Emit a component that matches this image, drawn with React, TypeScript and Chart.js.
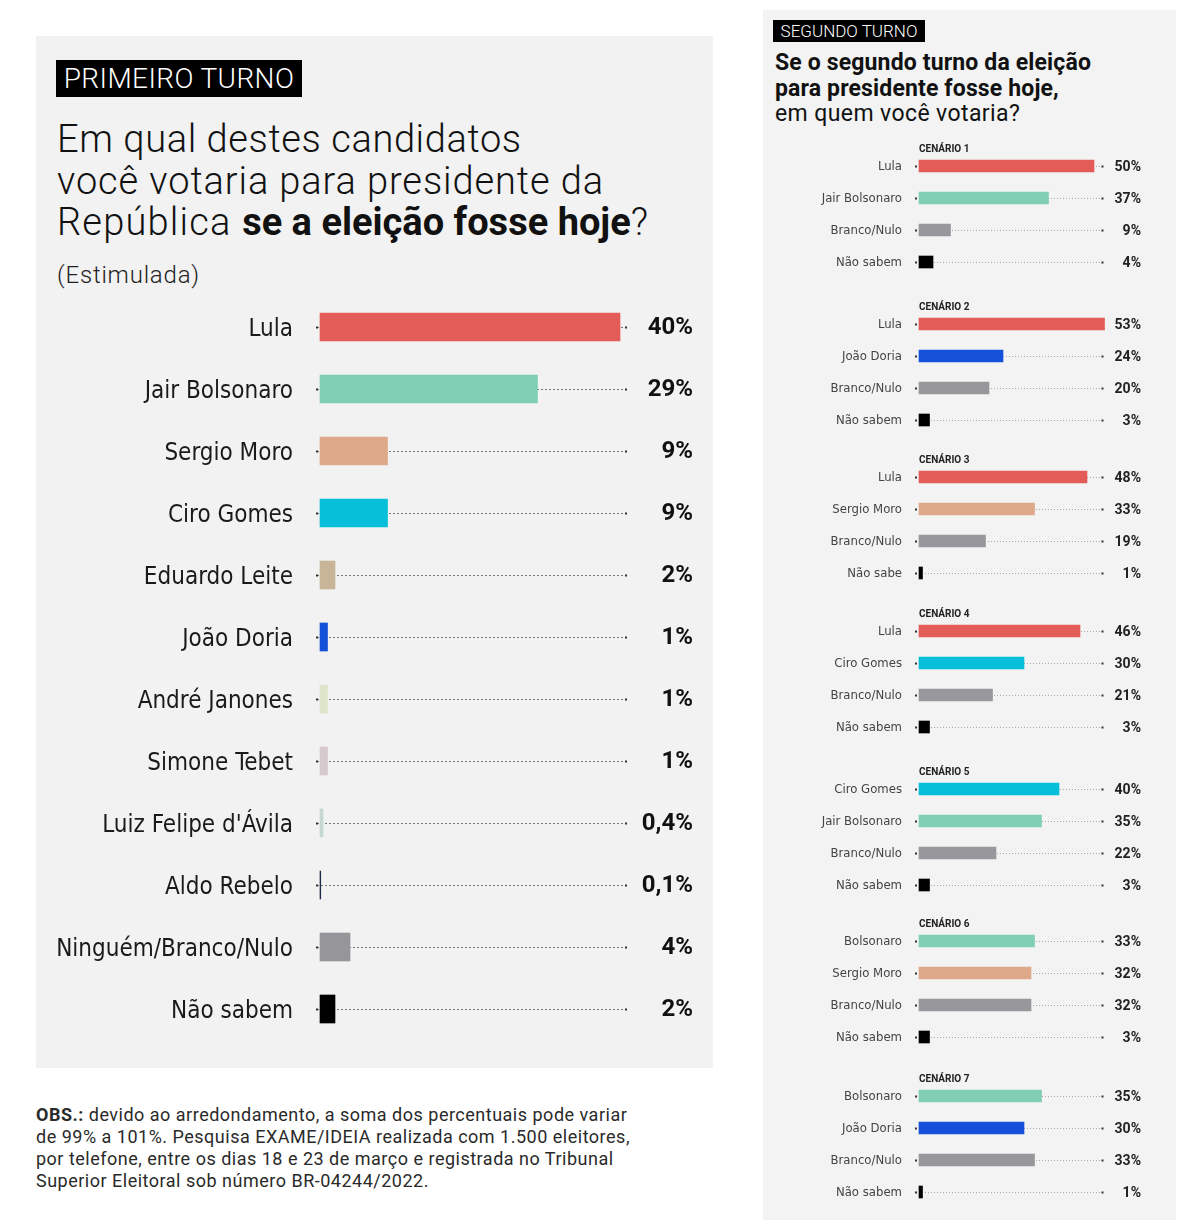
import React, { useEffect, useRef } from "react";
import { Chart, registerables } from "chart.js";

Chart.register(...registerables);

// ---------------- DATA ----------------
const firstCategories = [
  "Lula",
  "Jair Bolsonaro",
  "Sergio Moro",
  "Ciro Gomes",
  "Eduardo Leite",
  "João Doria",
  "André Janones",
  "Simone Tebet",
  "Luiz Felipe d'Ávila",
  "Aldo Rebelo",
  "Ninguém/Branco/Nulo",
  "Não sabem",
];
const firstValues = [40, 29, 9, 9, 2, 1, 1, 1, 0.4, 0.1, 4, 2];
const firstColors = [
  "#e45c58",
  "#80cfb5",
  "#dea98b",
  "#08bfd9",
  "#c8b496",
  "#1550d8",
  "#dce4c9",
  "#d6cace",
  "#c5d8d0",
  "#1a2a44",
  "#96969a",
  "#000000",
];

const scenarioTitles = ["CENÁRIO 1", "CENÁRIO 2", "CENÁRIO 3", "CENÁRIO 4", "CENÁRIO 5", "CENÁRIO 6", "CENÁRIO 7"];

const scenario1Labels = ["Lula", "Jair Bolsonaro", "Branco/Nulo", "Não sabem"];
const scenario1Values = [50, 37, 9, 4];
const scenario2Labels = ["Lula", "João Doria", "Branco/Nulo", "Não sabem"];
const scenario2Values = [53, 24, 20, 3];
const scenario3Labels = ["Lula", "Sergio Moro", "Branco/Nulo", "Não sabe"];
const scenario3Values = [48, 33, 19, 1];
const scenario4Labels = ["Lula", "Ciro Gomes", "Branco/Nulo", "Não sabem"];
const scenario4Values = [46, 30, 21, 3];
const scenario5Labels = ["Ciro Gomes", "Jair Bolsonaro", "Branco/Nulo", "Não sabem"];
const scenario5Values = [40, 35, 22, 3];
const scenario6Labels = ["Bolsonaro", "Sergio Moro", "Branco/Nulo", "Não sabem"];
const scenario6Values = [33, 32, 32, 3];
const scenario7Labels = ["Bolsonaro", "João Doria", "Branco/Nulo", "Não sabem"];
const scenario7Values = [35, 30, 33, 1];

const RED = "#e45c58";
const MINT = "#80cfb5";
const PEACH = "#dea98b";
const CYAN = "#08bfd9";
const BLUE = "#1550d8";
const GRAY = "#98989c";
const BLACK = "#000000";

const scenario1Colors = [RED, MINT, GRAY, BLACK];
const scenario2Colors = [RED, BLUE, GRAY, BLACK];
const scenario3Colors = [RED, PEACH, GRAY, BLACK];
const scenario4Colors = [RED, CYAN, GRAY, BLACK];
const scenario5Colors = [CYAN, MINT, GRAY, BLACK];
const scenario6Colors = [MINT, PEACH, GRAY, BLACK];
const scenario7Colors = [MINT, BLUE, GRAY, BLACK];

// ---------------- LAYOUT ----------------
const scenarioTops = [150, 308, 461, 615, 773, 925, 1080];

const NARROW = "'Liberation Sans Narrow', 'DejaVu Sans Condensed', 'Roboto', sans-serif";
const SANS = "Roboto, 'Noto Sans', sans-serif";

const fmt = (v: number) => String(v).replace(".", ",") + "%";

type BlockProps = {
  labels: string[];
  values: number[];
  colors: string[];
  left: number;
  top: number;
  width: number;
  height: number;
  axisWidth: number;
  labelPadding: number;
  labelOffset: number;
  padRight: number;
  xMax: number;
  barThickness: number;
  labelFont: { size: number; color: string };
  valueFont: { size: number; color: string; weight: number };
  valueX: number;
  lineLeft: number;
  lineRight: number;
  lineColor: string;
  dash: number[];
};

function BarBlock(p: BlockProps) {
  const ref = useRef<HTMLCanvasElement | null>(null);
  useEffect(() => {
    if (!ref.current) return;
    const decor = {
      id: "rowDecor",
      beforeDatasetsDraw(chart: any) {
        const { ctx, chartArea } = chart;
        const meta = chart.getDatasetMeta(0);
        ctx.save();
        meta.data.forEach((bar: any) => {
          const y = Math.round(bar.y) + 0.5;
          const x0 = chartArea.left - p.lineLeft;
          const x1 = chartArea.right + p.lineRight;
          ctx.strokeStyle = p.lineColor;
          ctx.lineWidth = 1;
          ctx.setLineDash(p.dash);
          ctx.beginPath();
          ctx.moveTo(x0, y);
          ctx.lineTo(x1, y);
          ctx.stroke();
          ctx.setLineDash([]);
          ctx.fillStyle = "#333";
          ctx.fillRect(x0 - 1, y - 1, 2, 2);
          ctx.fillRect(x1 - 1, y - 1, 2, 2);
        });
        ctx.restore();
      },
      afterDatasetsDraw(chart: any) {
        const { ctx } = chart;
        const meta = chart.getDatasetMeta(0);
        const data = chart.data.datasets[0].data as number[];
        ctx.save();
        ctx.font = `${p.valueFont.weight} ${p.valueFont.size}px ${SANS}`;
        ctx.fillStyle = p.valueFont.color;
        ctx.textAlign = "right";
        ctx.textBaseline = "middle";
        meta.data.forEach((bar: any, i: number) => {
          ctx.fillText(fmt(data[i]), p.valueX, bar.y + 1);
        });
        ctx.restore();
      },
    };
    const chart = new Chart(ref.current, {
      type: "bar",
      data: {
        labels: p.labels,
        datasets: [
          {
            data: p.values,
            backgroundColor: p.colors,
            borderWidth: 0,
            barThickness: p.barThickness,
            clip: false as any,
          },
        ],
      },
      options: {
        indexAxis: "y",
        responsive: false,
        maintainAspectRatio: false,
        animation: false,
        layout: { padding: { left: 0, right: p.padRight, top: 0, bottom: 0 } },
        plugins: {
          legend: { display: false },
          tooltip: { enabled: false },
          title: { display: false },
        },
        scales: {
          x: { display: false, min: 0, max: p.xMax },
          y: {
            position: "left",
            grid: { display: false, drawTicks: false },
            border: { display: false },
            ticks: {
              padding: p.labelPadding,
              labelOffset: p.labelOffset,
              color: p.labelFont.color,
              font: { family: NARROW, size: p.labelFont.size },
              autoSkip: false,
            },
            afterFit: (s: any) => {
              s.width = p.axisWidth;
              s.paddingTop = 0;
              s.paddingBottom = 0;
            },
          },
        },
      },
      plugins: [decor],
    } as any);
    return () => chart.destroy();
  }, []);
  return (
    <canvas
      ref={ref}
      width={p.width}
      height={p.height}
      style={{ position: "absolute", left: p.left, top: p.top, width: p.width, height: p.height }}
    />
  );
}

const scenarios = [
  { title: scenarioTitles[0], labels: scenario1Labels, values: scenario1Values, colors: scenario1Colors },
  { title: scenarioTitles[1], labels: scenario2Labels, values: scenario2Values, colors: scenario2Colors },
  { title: scenarioTitles[2], labels: scenario3Labels, values: scenario3Values, colors: scenario3Colors },
  { title: scenarioTitles[3], labels: scenario4Labels, values: scenario4Values, colors: scenario4Colors },
  { title: scenarioTitles[4], labels: scenario5Labels, values: scenario5Values, colors: scenario5Colors },
  { title: scenarioTitles[5], labels: scenario6Labels, values: scenario6Values, colors: scenario6Colors },
  { title: scenarioTitles[6], labels: scenario7Labels, values: scenario7Values, colors: scenario7Colors },
];

export default function App() {
  const abs = (l: number, t: number, extra: any = {}) => ({ position: "absolute" as const, left: l, top: t, ...extra });
  return (
    <div style={{ position: "absolute", left: 0, top: 0, width: 1195, height: 1226, background: "#fff", overflow: "hidden", fontFamily: SANS }}>
      {/* Left panel */}
      <div style={abs(36, 36, { width: 677, height: 1032, background: "#f2f2f2" })} />
      <div
        style={abs(56, 60, {
          width: 246,
          height: 37,
          background: "#000",
          color: "#fff",
          fontSize: 28,
          lineHeight: "37px",
          textAlign: "center",
          fontWeight: 300,
          letterSpacing: 0.4,
          whiteSpace: "nowrap",
        })}
      >
        PRIMEIRO TURNO
      </div>
      <div style={abs(57, 119, { fontSize: 38, lineHeight: "41.5px", color: "#111", fontWeight: 300, whiteSpace: "nowrap" })}>
        <div style={{ letterSpacing: 0.6 }}>Em qual destes candidatos</div>
        <div style={{ letterSpacing: 0.9 }}>você votaria para presidente da</div>
        <div>
          <span style={{ letterSpacing: 1.2 }}>República </span>
          <span style={{ fontWeight: 700 }}>se a eleição fosse hoje</span>?
        </div>
      </div>
      <div style={abs(57, 260, { fontSize: 24, lineHeight: "30px", color: "#222", fontWeight: 300, letterSpacing: 0.8 })}>(Estimulada)</div>

      <BarBlock
        labels={firstCategories}
        values={firstValues}
        colors={firstColors}
        left={36}
        top={296}
        width={677}
        height={744}
        axisWidth={284}
        labelPadding={27}
        labelOffset={3}
        padRight={93}
        xMax={40}
        barThickness={28}
        labelFont={{ size: 24, color: "#1a1a1a" }}
        valueFont={{ size: 24, color: "#111", weight: 700 }}
        valueX={657}
        lineLeft={3}
        lineRight={6}
        lineColor="#777"
        dash={[2, 2]}
      />

      {/* Footer */}
      <div style={abs(36, 1104, { width: 660, fontSize: 18, lineHeight: "22px", color: "#2a2a2a", whiteSpace: "nowrap", letterSpacing: 0.5 })}>
        <div>
          <b>OBS.:</b> devido ao arredondamento, a soma dos percentuais pode variar
        </div>
        <div>de 99% a 101%. Pesquisa EXAME/IDEIA realizada com 1.500 eleitores,</div>
        <div>por telefone, entre os dias 18 e 23 de março e registrada no Tribunal</div>
        <div>Superior Eleitoral sob número BR-04244/2022.</div>
      </div>

      {/* Right panel */}
      <div style={abs(763, 10, { width: 413, height: 1210, background: "#f3f3f3" })} />
      <div
        style={abs(773, 20, {
          width: 152,
          height: 22,
          background: "#000",
          color: "#fff",
          fontSize: 17,
          lineHeight: "22px",
          textAlign: "center",
          fontWeight: 300,
          whiteSpace: "nowrap",
        })}
      >
        SEGUNDO TURNO
      </div>
      <div style={abs(775, 50, { fontSize: 23, lineHeight: "25.5px", color: "#111", whiteSpace: "nowrap" })}>
        <div style={{ fontWeight: 700, letterSpacing: 0.15 }}>Se o segundo turno da eleição</div>
        <div style={{ fontWeight: 700, letterSpacing: 0.15 }}>para presidente fosse hoje,</div>
        <div style={{ fontWeight: 400, letterSpacing: 0.4 }}>em quem você votaria?</div>
      </div>

      {scenarios.map((s, i) => (
        <React.Fragment key={i}>
          <div style={abs(919, scenarioTops[i] - 7, { fontSize: 10, lineHeight: "12px", fontWeight: 700, color: "#222", zIndex: 2 })}>
            {s.title}
          </div>
          <BarBlock
            labels={s.labels}
            values={s.values}
            colors={s.colors}
            left={763}
            top={scenarioTops[i]}
            width={413}
            height={128}
            axisWidth={156}
            labelPadding={17}
            labelOffset={1}
            padRight={71.5}
            xMax={53}
            barThickness={12}
            labelFont={{ size: 13, color: "#444" }}
            valueFont={{ size: 14, color: "#222", weight: 700 }}
            valueX={378}
            lineLeft={3}
            lineRight={-2}
            lineColor="#aaa"
            dash={[1, 2]}
          />
        </React.Fragment>
      ))}
    </div>
  );
}
